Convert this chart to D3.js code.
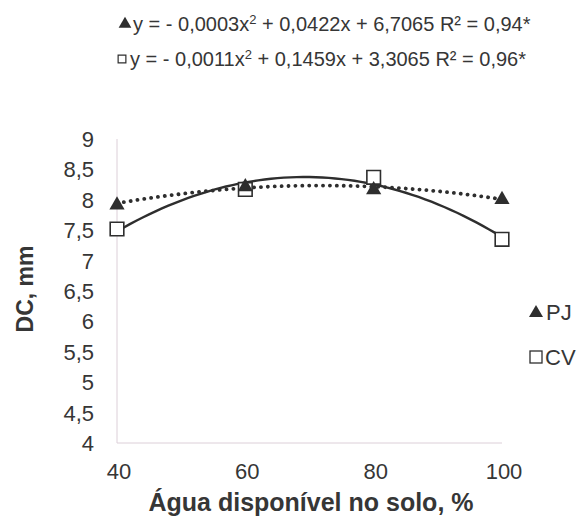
<!DOCTYPE html>
<html>
<head>
<meta charset="utf-8">
<script src="https://cdn.jsdelivr.net/npm/d3@7"></script>
<style>
  body { margin: 0; background: #fff; }
  text { font-family: "Liberation Sans", Arial, sans-serif; fill: #363636; }
</style>
</head>
<body>
<div class="container"></div>
<script>
// data
const water = [40, 60, 80, 100];
const pj = [7.93, 8.23, 8.18, 8.02];
const cv = [7.52, 8.17, 8.37, 7.35];
const yTicks = [4, 4.5, 5, 5.5, 6, 6.5, 7, 7.5, 8, 8.5, 9];
const xTicks = [40, 60, 80, 100];
const eqPJ = ["y = - 0,0003x", "2", " + 0,0422x + 6,7065 R² = 0,94*"];
const eqCV = ["y = - 0,0011x", "2", " + 0,1459x + 3,3065 R² = 0,96*"];

const width = 581, height = 519;
const ink = "#2e2e2e";

const svg = d3.select(".container").append("svg")
    .attr("width", width)
    .attr("height", height);

//scales
const x = d3.scaleLinear().domain([40, 100]).range([117, 502]);
const y = d3.scaleLinear().domain([4, 9]).range([443, 139]);
const fmt = d => String(d).replace(".", ",");

//axis lines (no ticks)
svg.append("line")
    .attr("x1", x(40)).attr("x2", x(40))
    .attr("y1", y(9)).attr("y2", y(4))
    .attr("stroke", "#dccfd8").attr("stroke-width", 1);
svg.append("line")
    .attr("x1", x(40)).attr("x2", x(100))
    .attr("y1", y(4)).attr("y2", y(4))
    .attr("stroke", "#dccfd8").attr("stroke-width", 1);

//tick labels
svg.selectAll(".ytick")
    .data(yTicks)
    .enter()
    .append("text")
    .attr("class", "ytick")
    .attr("x", 94)
    .attr("y", d => y(d))
    .attr("dy", "0.36em")
    .attr("text-anchor", "end")
    .style("font-size", "22px")
    .text(fmt);

svg.selectAll(".xtick")
    .data(xTicks)
    .enter()
    .append("text")
    .attr("class", "xtick")
    .attr("x", d => x(d) + 2)
    .attr("y", 479)
    .attr("text-anchor", "middle")
    .style("font-size", "22px")
    .text(d => d);

//axis titles
svg.append("text")
    .attr("x", 311)
    .attr("y", 511)
    .attr("text-anchor", "middle")
    .style("font-size", "25px")
    .style("font-weight", "bold")
    .text("Água disponível no solo, %");

svg.append("text")
    .attr("transform", "translate(33, 289) rotate(-90)")
    .attr("text-anchor", "middle")
    .style("font-size", "23px")
    .style("font-weight", "bold")
    .text("DC, mm");

//least squares quadratic fit -> trend line
function quadFit(xs, ys) {
  let s = [0, 0, 0, 0, 0], t = [0, 0, 0];
  xs.forEach((xv, i) => {
    for (let k = 0; k < 5; k++) s[k] += Math.pow(xv, k);
    for (let k = 0; k < 3; k++) t[k] += ys[i] * Math.pow(xv, k);
  });
  const m = [[s[0], s[1], s[2], t[0]], [s[1], s[2], s[3], t[1]], [s[2], s[3], s[4], t[2]]];
  for (let i = 0; i < 3; i++) {
    for (let j = i + 1; j < 3; j++) {
      const f = m[j][i] / m[i][i];
      for (let k = i; k < 4; k++) m[j][k] -= f * m[i][k];
    }
  }
  const c = [0, 0, 0];
  for (let i = 2; i >= 0; i--) {
    let v = m[i][3];
    for (let k = i + 1; k < 3; k++) v -= m[i][k] * c[k];
    c[i] = v / m[i][i];
  }
  return xv => c[0] + c[1] * xv + c[2] * xv * xv;
}

const samples = d3.range(40, 100.01, 1);
const line = d3.line().x(d => x(d[0])).y(d => y(d[1]));

const fitPJ = quadFit(water, pj);
const fitCV = quadFit(water, cv);

svg.append("path")
    .attr("d", line(samples.map(s => [s, fitCV(s)])))
    .attr("fill", "none")
    .attr("stroke", ink)
    .attr("stroke-width", 2.4);

svg.append("path")
    .attr("d", line(samples.map(s => [s, fitPJ(s)])))
    .attr("fill", "none")
    .attr("stroke", ink)
    .attr("stroke-width", 3.8)
    .attr("stroke-linecap", "round")
    .attr("stroke-dasharray", "0.1 6.8");

//markers
const tri = d3.symbol().type(d3.symbolTriangle).size(100);
const sq = d3.symbol().type(d3.symbolSquare).size(185);

svg.selectAll(".sq")
    .data(cv)
    .enter()
    .append("path")
    .attr("class", "sq")
    .attr("d", sq)
    .attr("transform", (d, i) => `translate(${x(water[i])}, ${y(d)})`)
    .attr("fill", "#fff")
    .attr("stroke", ink)
    .attr("stroke-width", 1.6);

svg.selectAll(".tri")
    .data(pj)
    .enter()
    .append("path")
    .attr("class", "tri")
    .attr("d", tri)
    .attr("transform", (d, i) => `translate(${x(water[i])}, ${y(d) + 1})`)
    .attr("fill", ink);

//equations
function equation(yPos, parts, symbolX, symbolPath, filled) {
  svg.append("path")
      .attr("d", symbolPath)
      .attr("transform", `translate(${symbolX}, ${yPos - 7})`)
      .attr("fill", filled ? ink : "#fff")
      .attr("stroke", filled ? "none" : ink)
      .attr("stroke-width", 1.2);
  const t = svg.append("text")
      .attr("x", symbolX + 8)
      .attr("y", yPos)
      .style("font-size", "20px");
  t.append("tspan").text(parts[0]);
  t.append("tspan").attr("dy", -7).style("font-size", "13px").text(parts[1]);
  t.append("tspan").attr("dy", 7).text(parts[2]);
}
equation(31, eqPJ, 125, d3.symbol().type(d3.symbolTriangle).size(70)(), true);
equation(66, eqCV, 122, d3.symbol().type(d3.symbolSquare).size(60)(), false);

//legend
svg.append("path")
    .attr("d", d3.symbol().type(d3.symbolTriangle).size(85)())
    .attr("transform", "translate(536, 313)")
    .attr("fill", ink);
svg.append("text")
    .attr("x", 546).attr("y", 320)
    .style("font-size", "22px")
    .text("PJ");
svg.append("rect")
    .attr("x", 530).attr("y", 351)
    .attr("width", 12).attr("height", 12)
    .attr("fill", "#fff")
    .attr("stroke", ink)
    .attr("stroke-width", 1.3);
svg.append("text")
    .attr("x", 545).attr("y", 365)
    .style("font-size", "22px")
    .text("CV");
</script>
</body>
</html>
